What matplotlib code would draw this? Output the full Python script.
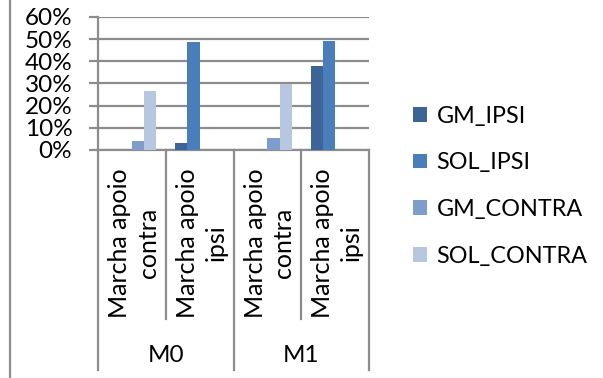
import matplotlib.pyplot as plt
import numpy as np
from matplotlib.lines import Line2D
from matplotlib.patches import Patch
from matplotlib.transforms import blended_transform_factory

# values in percent
categories = ["Marcha apoio\ncontra", "Marcha apoio\nipsi", "Marcha apoio\ncontra", "Marcha apoio\nipsi"]
groups = ["M0", "M1"]
series = ["GM_IPSI", "SOL_IPSI", "GM_CONTRA", "SOL_CONTRA"]
gm_ipsi = [0, 3.0, 0, 37.7]
sol_ipsi = [0, 48.7, 0, 49.0]
gm_contra = [4.2, 0, 5.2, 0]
sol_contra = [26.6, 0, 29.9, 0]
yticks = [0, 10, 20, 30, 40, 50, 60]

colors = ["#3C6496", "#4A7EBB", "#7F9DCA", "#B8C7E0"]
grid_c = "#8C8C8C"

W, H = 603, 378
plt.rcParams['font.family'] = ['Lato', 'DejaVu Sans']
fs = 17.5

fig = plt.figure(figsize=(W / 100, H / 100), dpi=100)
ax = fig.add_axes([98 / W, 1 - 150 / H, (369 - 98) / W, (150 - 17) / H])

x = np.arange(len(categories))
width = 0.18
for i, (vals, c) in enumerate(zip([gm_ipsi, sol_ipsi, gm_contra, sol_contra], colors)):
    ax.bar(x + (i - 1.5) * width, np.array(vals) / 100, width, color=c, zorder=3)

ax.set_xlim(-0.5, len(categories) - 0.5)
ax.set_ylim(0, 0.6)
ax.set_yticks([v / 100 for v in yticks])
ax.set_yticklabels([f"{v}%" for v in yticks], fontsize=fs)
ax.yaxis.grid(True, color=grid_c, linewidth=1.6, zorder=0)
ax.tick_params(axis='y', length=6.5, width=1.6, color=grid_c, pad=12)
ax.set_xticks([])
for s in ['top', 'right']:
    ax.spines[s].set_visible(False)
for s in ['left', 'bottom']:
    ax.spines[s].set_color(grid_c)
    ax.spines[s].set_linewidth(1.6)

# two-level category axis
tr = blended_transform_factory(ax.transData, fig.transFigure)
for k in range(len(categories) + 1):
    xb = k - 0.5
    y_end = 370 if k % 2 == 0 else 319
    ax.add_line(Line2D([xb, xb], [1 - 150 / H, 1 - y_end / H], transform=tr,
                       color=grid_c, linewidth=1.6, clip_on=False))
for k, lab in enumerate(categories):
    ax.text(k + 0.03, 1 - 168 / H, lab, transform=tr, rotation=90, ha='center', va='top',
            multialignment='center', fontsize=18, linespacing=1.3)
for g, lab in enumerate(groups):
    ax.text(2 * g + 0.5, 1 - 356 / H, lab, transform=tr, ha='center', va='center', fontsize=fs)

# outer chart border on the left
fig.add_artist(Line2D([10 / W, 10 / W], [0, 1], color=grid_c, linewidth=1.6))

handles = [Patch(facecolor=c, edgecolor='none') for c in colors]
fig.legend(handles, series, loc='center left', bbox_to_anchor=(404 / W, 1 - 186 / H),
           frameon=False, fontsize=16.8, handlelength=0.6, handleheight=0.6,
           handletextpad=0.4, labelspacing=1.1, borderaxespad=0)

fig.savefig("out.png", dpi=100)
